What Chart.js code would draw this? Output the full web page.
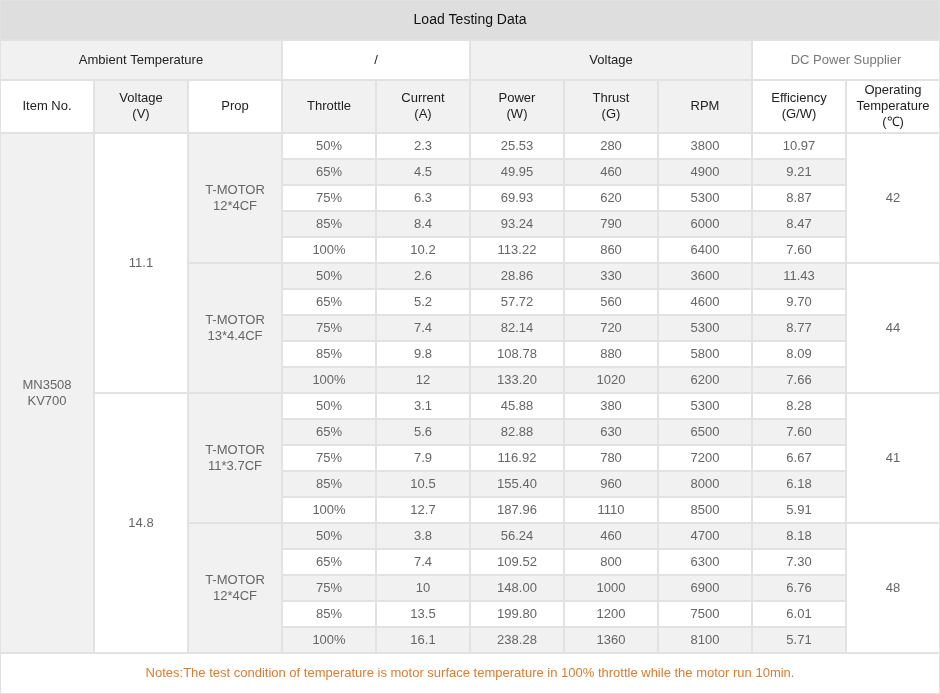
<!DOCTYPE html>
<html><head><meta charset="utf-8">
<script src="https://cdn.jsdelivr.net/npm/chart.js@4/dist/chart.umd.min.js"></script>
<style>html,body{margin:0;padding:0;background:#fff}#w{width:940px;height:694px}</style>
</head><body><div id="w"><canvas id="c"></canvas></div>
<script>
const title = "Load Testing Data";
const topHeaders = [["Ambient Temperature",0,3],["/",3,5],["Voltage",5,8],["DC Power Supplier",8,10]];
const colHeaders = [["Item No."],["Voltage","(V)"],["Prop"],["Throttle"],["Current","(A)"],["Power","(W)"],["Thrust","(G)"],["RPM"],["Efficiency","(G/W)"],["Operating","Temperature","(℃)"]];
const itemNo = ["MN3508","KV700"];
const voltages = ["11.1","14.8"];
const props = [["T-MOTOR","12*4CF"],["T-MOTOR","13*4.4CF"],["T-MOTOR","11*3.7CF"],["T-MOTOR","12*4CF"]];
const throttle = ["50%","65%","75%","85%","100%"];
const current = ["2.3","4.5","6.3","8.4","10.2","2.6","5.2","7.4","9.8","12","3.1","5.6","7.9","10.5","12.7","3.8","7.4","10","13.5","16.1"];
const power = ["25.53","49.95","69.93","93.24","113.22","28.86","57.72","82.14","108.78","133.20","45.88","82.88","116.92","155.40","187.96","56.24","109.52","148.00","199.80","238.28"];
const thrust = ["280","460","620","790","860","330","560","720","880","1020","380","630","780","960","1110","460","800","1000","1200","1360"];
const rpm = ["3800","4900","5300","6000","6400","3600","4600","5300","5800","6200","5300","6500","7200","8000","8500","4700","6300","6900","7500","8100"];
const efficiency = ["10.97","9.21","8.87","8.47","7.60","11.43","9.70","8.77","8.09","7.66","8.28","7.60","6.67","6.18","5.91","8.18","7.30","6.76","6.01","5.71"];
const opTemp = ["42","44","41","48"];
const note = "Notes:The test condition of temperature is motor surface temperature in 100% throttle while the motor run 10min.";
const rowHeights = [40,40,53].concat(Array(20).fill(26)).concat([41]);

const bounds=[0]; rowHeights.forEach(h=>bounds.push(bounds[bounds.length-1]+h));
const GREY="#f1f1f1", WHITE="#ffffff";
const tablePlugin={id:'table',afterDraw(chart){
  const ctx=chart.ctx, xs=chart.scales.x, ys=chart.scales.y;
  const X=v=>xs.getPixelForValue(v), Y=r=>ys.getPixelForValue(bounds[r]);
  function cell(c0,c1,r0,r1,bg,lines,color,font){
    const x0=X(c0),x1=X(c1),y0=Y(r0),y1=Y(r1);
    ctx.fillStyle=bg;ctx.fillRect(x0,y0,x1-x0,y1-y0);
    ctx.strokeStyle="#e2e2e2";ctx.lineWidth=1;ctx.strokeRect(x0+0.5,y0+0.5,x1-x0-1,y1-y0-1);
    ctx.fillStyle=color||"#666";ctx.font=font||"13px 'Liberation Sans', Arial, sans-serif";
    ctx.textAlign="center";ctx.textBaseline="middle";
    const lh=16, cy=(y0+y1)/2-(lines.length-1)*lh/2;
    lines.forEach((t,i)=>ctx.fillText(t,(x0+x1)/2,cy+i*lh));
  }
  cell(0,10,0,1,"#dedede",[title],"#111","14px 'Liberation Sans', Arial, sans-serif");
  topHeaders.forEach((h,i)=>cell(h[1],h[2],1,2,i%2?WHITE:GREY,[h[0]],i==3?"#777":"#222"));
  const hbg=[WHITE,GREY,WHITE,GREY,GREY,GREY,GREY,GREY,WHITE,WHITE];
  colHeaders.forEach((h,i)=>cell(i,i+1,2,3,hbg[i],h,"#222"));
  cell(0,1,3,23,GREY,itemNo);
  voltages.forEach((v,i)=>cell(1,2,3+i*10,13+i*10,WHITE,[v]));
  props.forEach((p,i)=>cell(2,3,3+i*5,8+i*5,GREY,p));
  opTemp.forEach((t,i)=>cell(9,10,3+i*5,8+i*5,WHITE,[t]));
  const cols=[null,current,power,thrust,rpm,efficiency];
  for(let r=0;r<20;r++){
    const bg=r%2?GREY:WHITE;
    cell(3,4,3+r,4+r,bg,[throttle[r%5]]);
    for(let k=1;k<=5;k++) cell(3+k,4+k,3+r,4+r,bg,[cols[k][r]]);
  }
  cell(0,10,23,24,WHITE,[note],"#e07b2e");
}};
new Chart(document.getElementById('c'),{
  type:'scatter',data:{datasets:[{data:[]}]},
  options:{responsive:true,maintainAspectRatio:false,animation:false,
    layout:{padding:0},
    plugins:{legend:{display:false},tooltip:{enabled:false}},
    scales:{x:{type:'linear',min:0,max:10,display:false},
            y:{type:'linear',min:0,max:bounds[bounds.length-1],reverse:true,display:false}}},
  plugins:[tablePlugin]});
</script></body></html>
